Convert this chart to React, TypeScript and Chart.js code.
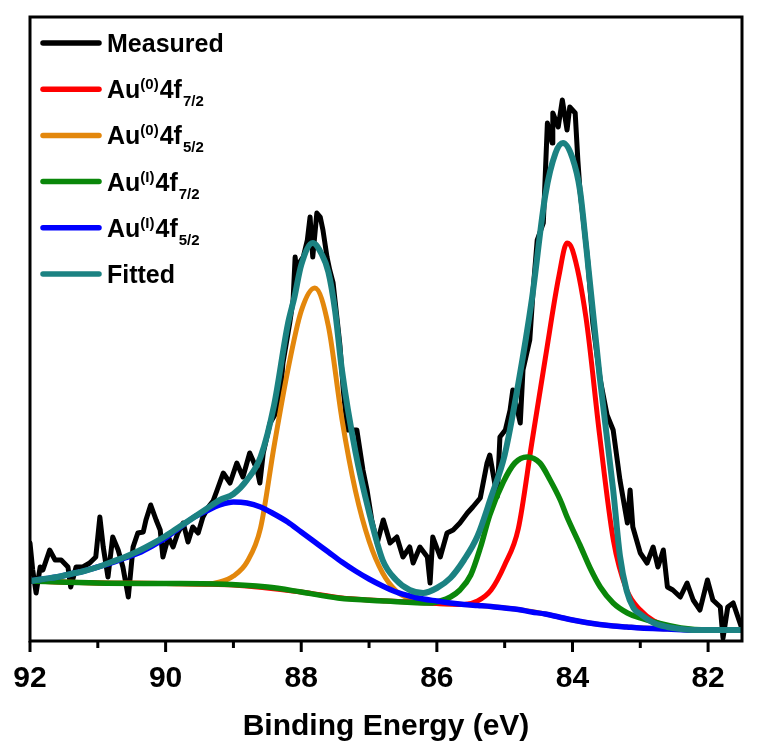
import React, { useEffect, useRef } from "react";
import { Chart, registerables } from "chart.js";
Chart.register(...registerables);

// ---------- data (binding energy in eV, intensity in a.u.) ----------
const measuredE = [92.00, 91.96, 91.91, 91.85, 91.81, 91.71, 91.63, 91.54, 91.44, 91.40,
  91.32, 91.22, 91.12, 91.03, 90.97, 90.92, 90.85, 90.78, 90.70, 90.63,
  90.55, 90.48, 90.41, 90.33, 90.29, 90.22, 90.14, 90.08, 90.04, 89.96,
  89.89, 89.82, 89.74, 89.67, 89.60, 89.52, 89.45, 89.37, 89.30, 89.24,
  89.15, 89.05, 88.95, 88.86, 88.76, 88.65, 88.61, 88.56, 88.46, 88.39,
  88.31, 88.27, 88.17, 88.12, 88.09, 88.06, 88.02, 87.97, 87.91, 87.87,
  87.83, 87.77, 87.72, 87.68, 87.62, 87.58, 87.53, 87.47, 87.43, 87.38,
  87.32, 87.25, 87.18, 87.09, 87.03, 86.96, 86.88, 86.79, 86.69, 86.59,
  86.50, 86.40, 86.35, 86.25, 86.14, 86.10, 86.06, 85.95, 85.85, 85.76,
  85.66, 85.55, 85.47, 85.36, 85.26, 85.22, 85.11, 85.07, 84.99, 84.92,
  84.88, 84.77, 84.73, 84.63, 84.58, 84.52, 84.43, 84.37, 84.30, 84.29,
  84.21, 84.15, 84.08, 84.04, 83.96, 83.92, 83.89, 83.78, 83.70, 83.59,
  83.49, 83.40, 83.30, 83.19, 83.15, 83.11, 83.00, 82.90, 82.81, 82.74,
  82.66, 82.60, 82.52, 82.41, 82.31, 82.22, 82.12, 82.01, 81.93, 81.82,
  81.78, 81.71, 81.63, 81.56, 81.51];
const measuredI = [98, 71, 48, 74, 71, 91, 81, 81, 74, 54,
  74, 74, 78, 84, 124, 94, 64, 104, 91, 74,
  44, 94, 108, 109, 121, 136, 121, 111, 84, 104,
  94, 108, 118, 99, 114, 108, 124, 134, 140, 151,
  168, 158, 178, 164, 188, 171, 158, 188, 218, 226,
  244, 278, 318, 341, 384, 364, 379, 384, 401, 424,
  384, 428, 424, 411, 384, 371, 358, 321, 296, 251,
  211, 211, 211, 171, 151, 121, 98, 121, 98, 104,
  84, 94, 78, 94, 84, 58, 104, 84, 108, 111,
  118, 128, 134, 143, 178, 186, 144, 204, 211, 231,
  251, 218, 271, 301, 351, 401, 418, 518, 498, 528,
  514, 541, 511, 534, 528, 480, 451, 384, 318, 261,
  226, 211, 161, 118, 151, 114, 88, 78, 94, 74,
  91, 54, 51, 44, 58, 41, 31, 61, 41, 34,
  3, 34, 38, 24, 14];

const au0_72E = [92.0, 91.0, 90.0, 89.0, 88.0, 87.4, 87.0, 86.4, 86.0, 85.6, 85.4, 85.2, 85.0, 84.8, 84.6, 84.4, 84.2, 84.08, 84.0, 83.8, 83.6, 83.4, 83.2, 83.0, 82.8, 82.6, 82.4, 82.2, 81.5];
const au0_72I = [60, 58, 57.5, 56, 49, 43, 41, 39, 37.5, 36.5, 40, 51, 76, 112, 198, 283, 365, 398, 391, 323, 206, 102, 51, 31, 20, 15, 12, 11, 11];

const au0_52E = [92.0, 91.0, 90.0, 89.4, 89.2, 89.0, 88.8, 88.6, 88.4, 88.2, 88.0, 87.8, 87.6, 87.4, 87.2, 87.0, 86.8, 86.6, 86.4, 86.2, 86.0, 85.6, 85.2, 84.8, 84.4, 84.0, 83.6, 83.2, 82.8, 82.4, 82.0, 81.5];
const au0_52I = [60, 58, 57.5, 57, 59, 65, 79, 113, 195, 270, 330, 353, 315, 222, 150, 100, 68, 50, 42, 39, 37.5, 36.5, 34.5, 31.5, 27, 21, 16.5, 14, 12.5, 11.5, 11, 11];

const au1_72E = [92.0, 91.0, 90.0, 89.24, 88.5, 88.0, 87.46, 86.75, 86.1, 85.95, 85.8, 85.66, 85.5, 85.36, 85.22, 85.02, 84.85, 84.67, 84.48, 84.33, 84.18, 84.08, 83.89, 83.74, 83.59, 83.4, 83.19, 83.0, 82.8, 82.4, 82.0, 81.5];
const au1_72I = [60, 58, 57.5, 57, 54, 49, 43, 40, 38, 40, 44, 51, 66, 93, 126, 159, 178, 184, 178, 161, 141, 124, 96, 73, 54, 38, 28, 23, 19, 13, 11, 11];

const au1_52E = [92.0, 91.8, 91.6, 91.4, 91.2, 91.0, 90.8, 90.6, 90.4, 90.2, 90.0, 89.8, 89.6, 89.4, 89.2, 89.0, 88.8, 88.6, 88.4, 88.2, 88.0, 87.8, 87.6, 87.4, 87.2, 87.0, 86.8, 86.6, 86.4, 86.2, 86.0, 85.8, 85.6, 85.4, 85.2, 85.0, 84.8, 84.6, 84.4, 84.2, 84.0, 83.8, 83.6, 83.4, 83.2, 83.0, 82.6, 82.2, 81.5];
const au1_52I = [60, 62, 64, 67, 70, 74, 78, 83, 88, 95, 103, 113, 123, 130, 136, 139, 138, 134, 127, 119, 109, 99, 89, 79, 70, 62, 55, 49, 45, 42, 40, 38, 36.5, 35.5, 34.5, 33, 31.5, 29, 27, 24, 21, 18.5, 16.5, 15, 14, 13, 12, 11, 11];

const fittedE = [92.0, 91.8, 91.6, 91.4, 91.2, 91.0, 90.8, 90.6, 90.4, 90.2, 90.0, 89.8, 89.6, 89.4, 89.2, 89.0, 88.8, 88.6, 88.4, 88.2, 88.1, 88.0, 87.83, 87.7, 87.6, 87.5, 87.4, 87.2, 87.0, 86.8, 86.6, 86.4, 86.2, 86.0, 85.8, 85.6, 85.4, 85.2, 85.0, 84.8, 84.6, 84.4, 84.25, 84.14, 84.0, 83.89, 83.8, 83.6, 83.4, 83.3, 83.2, 83.1, 83.0, 82.8, 82.6, 82.4, 82.2, 81.5];
const fittedI = [60, 62, 64, 67, 70, 74, 79, 84, 90, 97, 105, 114, 123, 132, 141, 147, 161, 184, 236, 316, 344, 376, 398, 387, 369, 330, 271, 189, 129, 81, 61, 51, 48, 53, 63, 81, 105, 144, 186, 257, 341, 446, 488, 498, 483, 451, 396, 265, 151, 85, 50, 33, 27, 18, 14, 12, 11, 11];

const xMin = 81.5;
const xMax = 92;
const yMin = 0;
const yMax = 624;
const majorTicks = [92, 90, 88, 86, 84, 82];
const minorTicks = [91, 89, 87, 85, 83];
const xTitle = "Binding Energy (eV)";

const seriesNames = ["Measured", "Au(0)4f7/2", "Au(0)4f5/2", "Au(I)4f7/2", "Au(I)4f5/2", "Fitted"];
const seriesColors = ["#000000", "#FF0000", "#E3870C", "#0A870A", "#0000FF", "#1B8282"];

// legend labels: [text, kind] kind: n = normal, sup, sub
const legendLabels: [string, string][][] = [
  [["Measured", "n"]],
  [["Au", "n"], ["(0)", "sup"], ["4f", "n"], ["7/2", "sub"]],
  [["Au", "n"], ["(0)", "sup"], ["4f", "n"], ["5/2", "sub"]],
  [["Au", "n"], ["(I)", "sup"], ["4f", "n"], ["7/2", "sub"]],
  [["Au", "n"], ["(I)", "sup"], ["4f", "n"], ["5/2", "sub"]],
  [["Fitted", "n"]],
];

const FONT = '"Liberation Sans", Arial, sans-serif';

const pts = (xs: number[], ys: number[]) => xs.map((x, i) => ({ x, y: ys[i] }));

const decorPlugin = {
  id: "decor",
  afterDatasetsDraw(chart: any) {
    const { ctx, chartArea: a, scales } = chart;
    const xs = scales.x;
    ctx.save();
    // frame
    ctx.strokeStyle = "#000";
    ctx.lineWidth = 3;
    ctx.strokeRect(a.left, a.top, a.right - a.left, a.bottom - a.top);
    // ticks
    ctx.lineWidth = 3;
    ctx.lineCap = "butt";
    majorTicks.forEach((v) => {
      const p = xs.getPixelForValue(v);
      ctx.beginPath();
      ctx.moveTo(p, a.bottom);
      ctx.lineTo(p, a.bottom + 11);
      ctx.stroke();
    });
    minorTicks.forEach((v) => {
      const p = xs.getPixelForValue(v);
      ctx.beginPath();
      ctx.moveTo(p, a.bottom);
      ctx.lineTo(p, a.bottom + 7);
      ctx.stroke();
    });
    // axis title
    ctx.fillStyle = "#000";
    ctx.font = `bold 30px ${FONT}`;
    ctx.textAlign = "center";
    ctx.textBaseline = "alphabetic";
    ctx.fillText(xTitle, (a.left + a.right) / 2, a.bottom + 94);
    // legend
    ctx.textAlign = "left";
    legendLabels.forEach((parts, k) => {
      const y = a.top + 26 + k * 46.2;
      ctx.strokeStyle = seriesColors[k];
      ctx.lineWidth = 5.5;
      ctx.lineCap = "round";
      ctx.beginPath();
      ctx.moveTo(a.left + 13, y);
      ctx.lineTo(a.left + 69, y);
      ctx.stroke();
      let tx = a.left + 77;
      const base = y + 9;
      parts.forEach(([t, kind]) => {
        if (kind === "n") {
          ctx.font = `bold 25px ${FONT}`;
          ctx.fillText(t, tx, base);
          tx += ctx.measureText(t).width;
        } else if (kind === "sup") {
          ctx.font = `bold 15px ${FONT}`;
          ctx.fillText(t, tx, base - 9);
          tx += ctx.measureText(t).width + 1;
        } else {
          ctx.font = `bold 15px ${FONT}`;
          ctx.fillText(t, tx + 1, base + 8);
          tx += ctx.measureText(t).width + 1;
        }
      });
    });
    ctx.restore();
  },
};

export default function App() {
  const ref = useRef<HTMLCanvasElement | null>(null);
  useEffect(() => {
    document.body.style.margin = "0";
    document.body.style.background = "#fff";
    const canvas = ref.current;
    if (!canvas) return;
    const seriesData = [
      pts(measuredE, measuredI),
      pts(au0_72E, au0_72I),
      pts(au0_52E, au0_52I),
      pts(au1_72E, au1_72I),
      pts(au1_52E, au1_52I),
      pts(fittedE, fittedI),
    ];
    const widths = [5, 5, 5, 5.5, 5.5, 6];
    // lower order is drawn on top
    const orders = [5, 3, 4, 2, 1, 0];
    const chart = new Chart(canvas, {
      type: "line",
      data: {
        datasets: seriesData.map((d, i) => ({
          label: seriesNames[i],
          data: d,
          borderColor: seriesColors[i],
          backgroundColor: seriesColors[i],
          borderWidth: widths[i],
          pointRadius: 0,
          fill: false,
          tension: i === 0 ? 0 : 0.4,
          cubicInterpolationMode: i === 0 ? "default" : "monotone",
          borderJoinStyle: "round",
          borderCapStyle: "round",
          order: orders[i],
        })),
      },
      options: {
        responsive: false,
        devicePixelRatio: 1,
        animation: false,
        layout: { padding: { left: 30, right: 15, top: 17, bottom: 0 } },
        plugins: { legend: { display: false }, tooltip: { enabled: false } },
        scales: {
          x: {
            type: "linear",
            reverse: true,
            min: xMin,
            max: xMax,
            grid: { display: false },
            border: { display: false },
            afterBuildTicks: (scale: any) => {
              scale.ticks = majorTicks.map((v) => ({ value: v }));
            },
            afterFit: (scale: any) => {
              scale.height = 102;
            },
            ticks: {
              autoSkip: false,
              maxRotation: 0,
              padding: 12,
              color: "#000",
              font: { family: FONT, size: 30, weight: "bold" },
              callback: (v: any) => String(v),
            },
          },
          y: { display: false, min: yMin, max: yMax },
        },
      } as any,
      plugins: [decorPlugin],
    });
    return () => chart.destroy();
  }, []);
  return (
    <canvas ref={ref} width={757} height={743} style={{ display: "block", width: 757, height: 743 }} />
  );
}
